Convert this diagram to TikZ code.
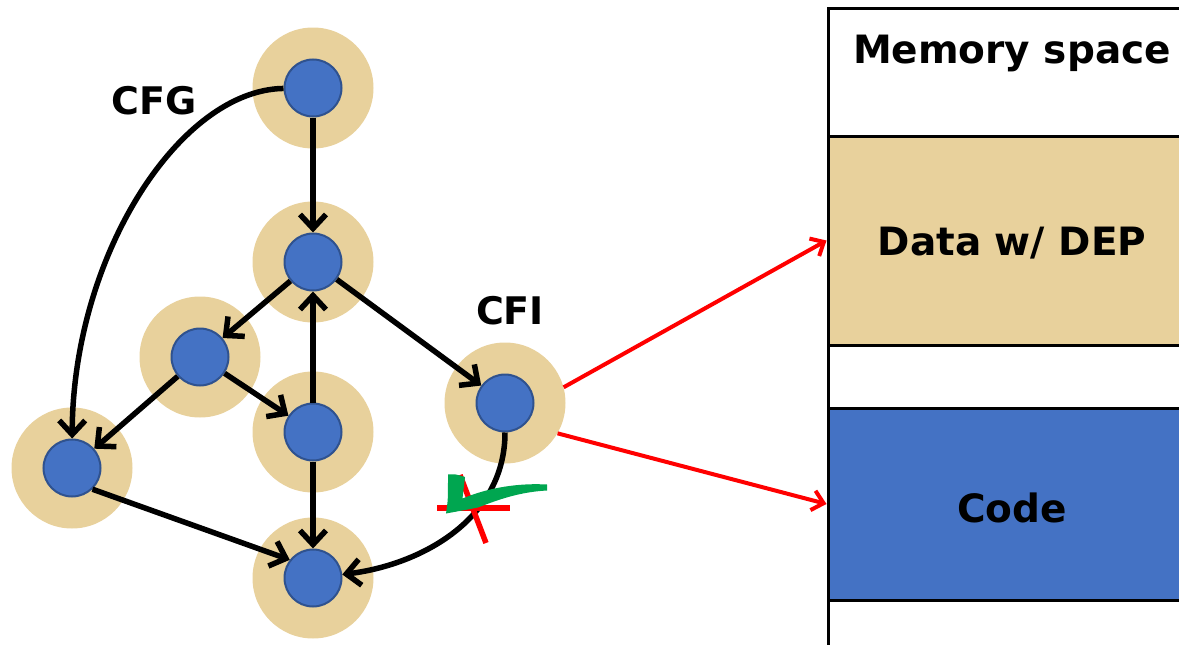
\documentclass[tikz,border=0pt]{standalone}
\usepackage{fontspec}
\setmainfont{DejaVu Sans}
\usetikzlibrary{arrows.meta}

\definecolor{papyrus}{RGB}{232,209,156}
\definecolor{nodeblue}{RGB}{68,114,196}
\definecolor{nodeedge}{RGB}{47,82,143}
\definecolor{checkgreen}{RGB}{0,166,80}

\begin{document}
\begin{tikzpicture}[x=1pt,y=-1pt,
  halo/.style={circle, fill=papyrus, minimum size=121pt, inner sep=0pt},
  vertex/.style={circle, fill=nodeblue, draw=nodeedge, line width=2pt,
                 minimum size=57pt, inner sep=0pt},
  flow/.style={line width=5.5pt, -{Straight Barb[length=14pt,width=26pt]}},
  link/.style={red, line width=4pt, -{Straight Barb[length=11pt,width=20pt]}},
  tagtext/.style={font=\bfseries\fontsize{39}{42}\selectfont, inner sep=0pt},
  graphtext/.style={font=\bfseries\fontsize{38}{42}\selectfont, inner sep=0pt},
  region/.style={draw=black, line width=3pt, minimum width=368pt, inner sep=0pt}
]
\useasboundingbox (0,0) rectangle (1179,645);

% papyrus halos behind the CFG vertices
\foreach \n/\p in {A/{(313,88)}, B/{(313,262)}, C/{(200,357)}, D/{(313,432)},
                   E/{(72,468)}, F/{(313,578)}, G/{(505,403)}}
  \node[halo] (\n h) at \p {};

% control-flow graph vertices
\node[vertex] (A) at (313,88)  {};
\node[vertex] (B) at (313,262) {};
\node[vertex] (C) at (200,357) {};
\node[vertex] (D) at (313,432) {};
\node[vertex] (E) at (72,468)  {};
\node[vertex] (F) at (313,578) {};
\node[vertex] (G) at (505,403) {};

% edges of the graph
\draw[flow] (A) .. controls (180,90) and (73,255) .. (E);
\draw[flow] (A) -- (B);
\draw[flow] (B) -- (C);
\draw[flow] (C) -- (E);
\draw[flow] (C) -- (D);
\draw[flow] (D) -- (B);
\draw[flow] (D) -- (F);
\draw[flow] (E.-46) -- (F.142);
\draw[flow] (B) -- (G);
\draw[flow] (G) .. controls (505,520) and (420,565) .. (F);

% labels of the graph
\node[graphtext] (cfg) at (154,101) {CFG};
\node[graphtext] (cfi) at (510,311) {CFI};

% memory layout
\draw[line width=3pt] (1196,8) -- (828,8) -- (828,660);
\node[tagtext] (mem) at (1012,53) {Memory space};
\node[region, fill=papyrus, minimum height=209pt] (Data) at (1012,240.5) {};
\node[region, fill=nodeblue, minimum height=192pt] (Code) at (1012,504) {};
\node[tagtext] at ([yshift=-3pt]Data.center) {Data w/ DEP};
\node[tagtext] at ([yshift=-4pt]Code.center) {Code};

% CFI checks pointing into memory
\draw[link] (Gh.15) -- (Data.west);
\draw[link] (Gh.-30) -- (Code.west);

% rejected edge: red cross over the return edge
\draw[red, line width=5.5pt] (437,508) -- (510,508);
\draw[red, line width=5.5pt] (460,475) -- (486,543);

% accepted: green tick
\fill[checkgreen] (448,474.5) .. controls (455,474) .. (465,477)
  .. controls (464,488) .. (462.5,498.5)
  .. controls (490,487) and (520,483) .. (547,484.5) -- (547,490.5)
  .. controls (520,492) and (500,499) .. (478,507.5)
  .. controls (465,510) .. (446,513.5)
  .. controls (448,500) .. cycle;
\end{tikzpicture}
\end{document}
